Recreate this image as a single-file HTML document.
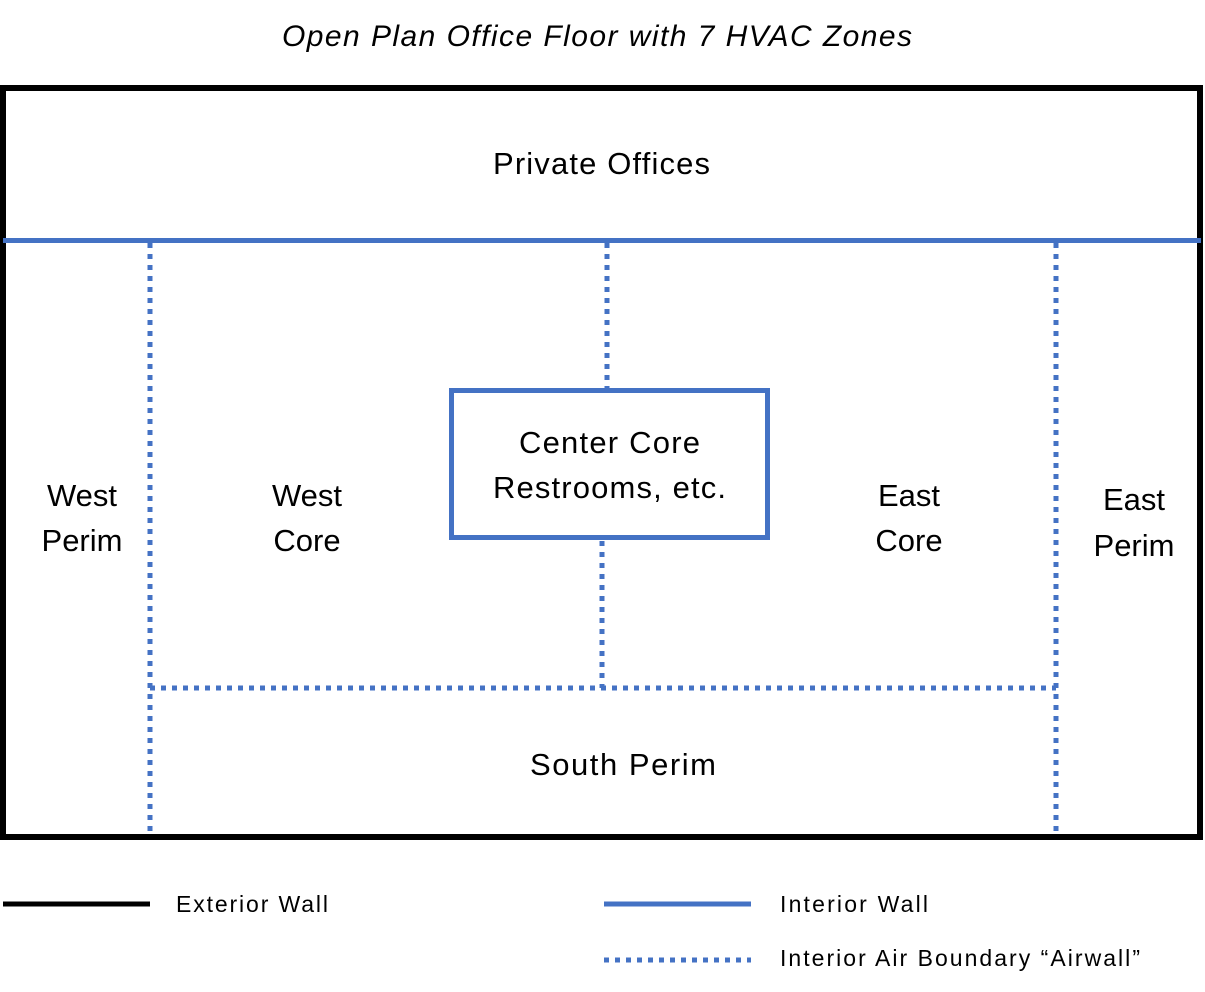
<!DOCTYPE html>
<html><head><style>
body{margin:0;background:#fff;}
svg{display:block;font-family:"Liberation Sans",sans-serif;}
</style></head><body>
<svg width="1205" height="992" viewBox="0 0 1205 992">
<text x="282" y="46" font-size="30" font-style="italic" fill="#000" textLength="630" lengthAdjust="spacing">Open Plan Office Floor with 7 HVAC Zones</text>
<rect x="3" y="88" width="1197" height="749" fill="none" stroke="#000" stroke-width="6"/>
<line x1="3" y1="240.5" x2="1201" y2="240.5" stroke="#4472C4" stroke-width="5"/>
<g stroke="#4472C4" stroke-width="5" stroke-dasharray="5 6" fill="none">
<line x1="150" y1="243" x2="150" y2="834"/>
<line x1="1056" y1="243" x2="1056" y2="834"/>
<line x1="607" y1="243" x2="607" y2="388"/>
<line x1="602" y1="541" x2="602" y2="688"/>
<line x1="150" y1="688" x2="1056" y2="688"/>
</g>
<rect x="451.5" y="390.5" width="316" height="147" fill="#fff" stroke="#4472C4" stroke-width="5"/>
<g font-size="31" fill="#000">
<text x="493" y="174" textLength="217" lengthAdjust="spacing">Private Offices</text>
<text x="519" y="453" textLength="181" lengthAdjust="spacing">Center Core</text>
<text x="493" y="498" textLength="233" lengthAdjust="spacing">Restrooms, etc.</text>
</g>
<g font-size="31" fill="#000" text-anchor="middle">
<text x="82" y="506">West</text><text x="82" y="551">Perim</text>
<text x="307" y="506">West</text><text x="307" y="551">Core</text>
<text x="909" y="506">East</text><text x="909" y="551">Core</text>
<text x="1134" y="510">East</text><text x="1134" y="556">Perim</text>
</g>
<text x="530" y="775" font-size="31" fill="#000" textLength="186" lengthAdjust="spacing">South Perim</text>
<line x1="3" y1="904" x2="150" y2="904" stroke="#000" stroke-width="5"/>
<line x1="604" y1="904" x2="751" y2="904" stroke="#4472C4" stroke-width="5"/>
<line x1="604" y1="960" x2="751" y2="960" stroke="#4472C4" stroke-width="5" stroke-dasharray="5 6"/>
<g font-size="23" fill="#000">
<text x="176" y="912" textLength="152" lengthAdjust="spacing">Exterior Wall</text>
<text x="780" y="912" textLength="148" lengthAdjust="spacing">Interior Wall</text>
<text x="780" y="966" textLength="360" lengthAdjust="spacing">Interior Air Boundary “Airwall”</text>
</g>
</svg>
</body></html>
